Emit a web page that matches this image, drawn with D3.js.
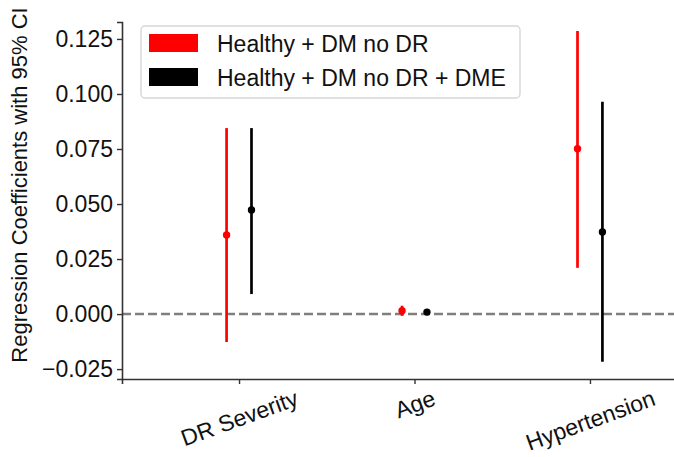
<html>
<head>
    <meta charset="utf-8">
    <script src="https://d3js.org/d3.v7.min.js"></script>
</head>
<body style="margin:0">
    <svg id='s' width="674" height="457"></svg>
    <script>
        // data
        const categories = ["DR Severity", "Age", "Hypertension"]
        const seriesNames = ["Healthy + DM no DR", "Healthy + DM no DR + DME"]
        const seriesColors = ["#ff0000", "#000000"]
        // coefficient, lower CI, upper CI per category
        const coefNoDR = [0.0359, 0.0015, 0.0751]
        const lowerNoDR = [-0.0127, -0.0008, 0.0210]
        const upperNoDR = [0.0845, 0.0038, 0.1286]
        const coefDME = [0.0473, 0.0009, 0.0373]
        const lowerDME = [0.0091, -0.0003, -0.0217]
        const upperDME = [0.0845, 0.0021, 0.0965]
        const yTicks = [-0.025, 0, 0.025, 0.05, 0.075, 0.1, 0.125]

        const FONT = "Liberation Sans, Arial, sans-serif"
        const FS = 23
        const LEFT = 122, TOP = 22, BOTTOM = 379, RIGHT = 707

        const svg = d3.select("svg")

        const y = d3.scaleLinear()
            .domain([-0.0295, 0.1327])
            .range([BOTTOM, TOP])

        // categorical positions at 0,1,2 on a linear axis like matplotlib
        const x = d3.scaleLinear()
            .domain([-0.667, 2.667])
            .range([LEFT, RIGHT])
        const offset = 0.071

        // zero reference line
        svg.append("line")
            .attr("x1", LEFT).attr("x2", 674)
            .attr("y1", y(0)).attr("y2", y(0))
            .attr("stroke", "#7f7f7f")
            .attr("stroke-width", 2.4)
            .attr("stroke-dasharray", "9,4")

        // y axis
        const yAxis = svg.append("g")
            .attr("transform", `translate(${LEFT},0)`)
            .call(d3.axisLeft(y).tickValues(yTicks).tickSizeOuter(0).tickSize(5).tickPadding(4))
        yAxis.select(".domain").attr("stroke", "#333").attr("stroke-width", 1.6)
        yAxis.selectAll(".tick line").attr("stroke", "#333").attr("stroke-width", 1.4)
        yAxis.selectAll("text")
            .attr("font-family", FONT)
            .attr("font-size", FS + "px")
            .attr("fill", "#111")
            .text(d => d3.format(".3f")(d).replace("-", "\u2212"))

        // x axis
        const xAxis = svg.append("g")
            .attr("transform", `translate(0,${BOTTOM})`)
            .call(d3.axisBottom(x).tickValues([0, 1, 2]).tickFormat(i => categories[i]).tickSizeOuter(0).tickSize(5))
        xAxis.select(".domain").attr("stroke", "#333").attr("stroke-width", 1.6)
        xAxis.selectAll(".tick line").attr("stroke", "#333").attr("stroke-width", 1.4)
        xAxis.selectAll("text")
            .attr("font-family", FONT)
            .attr("font-size", FS + "px")
            .attr("fill", "#111")
            .attr("dy", null)
            .attr("y", 0)
            .attr("dominant-baseline", "central")
            .attr("text-anchor", "middle")
            .each(function () {
                const w = this.getComputedTextLength()
                const a = 20 * Math.PI / 180
                const h = w * Math.sin(a) + 0.75 * FS * Math.cos(a)
                const cy = 10 + h / 2
                d3.select(this)
                    .attr("y", cy)
                    .attr("transform", `rotate(-20,0,${cy})`)
            })

        // y label
        svg.append("text")
            .attr("transform", `translate(27,185) rotate(-90)`)
            .attr("font-family", FONT)
            .attr("font-size", "22px")
            .attr("text-anchor", "middle")
            .attr("fill", "#111")
            .text("Regression Coefficients with 95% CI")

        // error bars
        const series = [
            { coef: coefNoDR, lo: lowerNoDR, hi: upperNoDR, shift: -offset, color: seriesColors[0] },
            { coef: coefDME, lo: lowerDME, hi: upperDME, shift: offset, color: seriesColors[1] }
        ]
        series.forEach(s => {
            const pts = categories.map((c, i) => ({ i: i, v: s.coef[i], lo: s.lo[i], hi: s.hi[i] }))
            const g = svg.append("g")
            g.selectAll("line")
                .data(pts)
                .enter().append("line")
                .attr("x1", d => x(d.i + s.shift))
                .attr("x2", d => x(d.i + s.shift))
                .attr("y1", d => y(d.lo))
                .attr("y2", d => y(d.hi))
                .attr("stroke", s.color)
                .attr("stroke-width", 2.7)
            g.selectAll("circle")
                .data(pts)
                .enter().append("circle")
                .attr("cx", d => x(d.i + s.shift))
                .attr("cy", d => y(d.v))
                .attr("r", 3.7)
                .attr("fill", s.color)
        })

        // legend
        const legend = svg.append("g")
        legend.append("rect")
            .attr("x", 141).attr("y", 26)
            .attr("width", 379).attr("height", 72)
            .attr("rx", 4)
            .attr("fill", "white")
            .attr("fill-opacity", 0.8)
            .attr("stroke", "#d6d6d6")
            .attr("stroke-width", 1.4)
        seriesNames.forEach((name, i) => {
            legend.append("rect")
                .attr("x", 149).attr("y", 34 + i * 34)
                .attr("width", 49).attr("height", 18)
                .attr("fill", seriesColors[i])
            legend.append("text")
                .attr("x", 217).attr("y", 44 + i * 34)
                .attr("dominant-baseline", "central")
                .attr("font-family", FONT)
                .attr("font-size", FS + "px")
                .attr("fill", "#111")
                .text(name)
        })
    </script>
</body>
</html>
